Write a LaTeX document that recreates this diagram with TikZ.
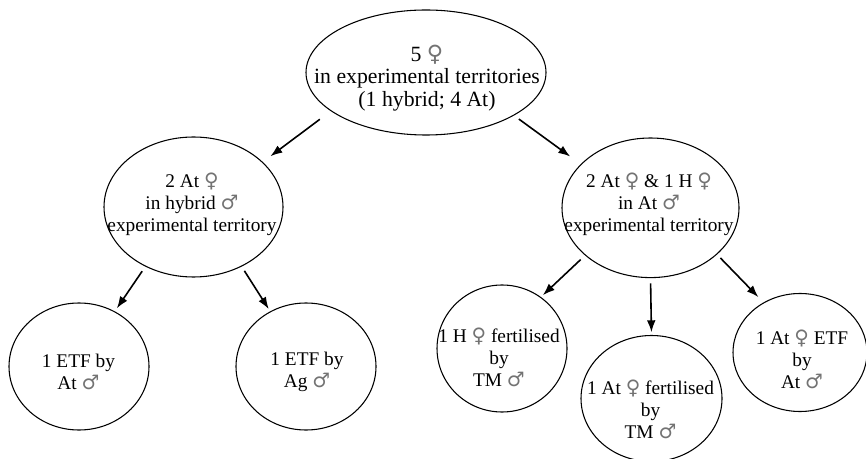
\documentclass[tikz,border=0pt]{standalone}
\usepackage{fontspec}
\setmainfont{Liberation Serif}
\newfontfamily\symfont[Scale=1.03]{DejaVu Sans}
\usepackage{tikz}
\usetikzlibrary{shapes.geometric,arrows.meta}

\newcommand{\fem}{{\symfont\color{black!55}♀}}
\newcommand{\mas}{{\symfont\color{black!55}♂}}

\begin{document}
\begin{tikzpicture}[x=0.75pt,y=0.75pt,yscale=-1,xscale=1,
  blob/.style={draw,ellipse,line width=0.8pt,inner sep=0pt,outer sep=0pt},
  txt/.style={align=center,inner sep=0pt,font=\fontsize{14.5}{16.5}\selectfont},
  arr/.style={-{Latex[length=9pt,width=6.5pt]},line width=1.2pt}]
\useasboundingbox (0,0) rectangle (866,459);

% Ellipses
\node[blob,minimum width=180pt,minimum height=93.75pt] (top) at (426,72.5) {};
\node[blob,minimum width=134.25pt,minimum height=105pt] (lmid) at (193.5,207) {};
\node[blob,minimum width=132.75pt,minimum height=104.7pt] (rmid) at (650.5,207.8) {};
\node[blob,minimum width=105pt,minimum height=95.25pt] (atfem) at (79,366.5) {};
\node[blob,minimum width=105pt,minimum height=95.25pt] (agfem) at (306,366.5) {};
\node[blob,minimum width=97.5pt,minimum height=95.25pt] (htm) at (502,348.5) {};
\node[blob,minimum width=105.75pt,minimum height=94.5pt] (attm) at (651.5,398.5) {};
\node[blob,minimum width=100.5pt,minimum height=88.5pt] (atat) at (800,352.5) {};

% Text Node
\node[txt,font=\fontsize{16.3}{16.8}\selectfont] (toptxt) at (427,78) {5 \fem\\in experimental territories\\(1 hybrid; 4 At)};
% Text Node
\node[txt] (lmidtxt) at (192,204.5) {2 At \fem\\in hybrid \mas\\experimental territory};
% Text Node
\node[txt] (rmidtxt) at (649,204.5) {2 At \fem{} \& 1 H \fem\\in At \mas\\experimental territory};
% Text Node
\node[txt] (atfemtxt) at (78.5,372) {1 ETF by\\At \mas};
% Text Node
\node[txt] (agfemtxt) at (307,372) {1 ETF by\\Ag \mas};
% Text Node
\node[txt] (htmtxt) at (499,357) {1 H \fem{} fertilised\\by\\TM \mas};
% Text Node
\node[txt] (attmtxt) at (650.5,409) {1 At \fem{} fertilised\\by\\TM \mas};
% Text Node
\node[txt] (atattxt) at (802,359) {1 At \fem{} ETF\\by\\At \mas};

% Connection
\draw[arr,shorten <=10.65pt,shorten >=7.5pt] (top.202) -- (lmid.33);
% Connection
\draw[arr,shorten <=4.9pt,shorten >=10.1pt] (top.334) -- (rmid.148);
% Connection
\draw[arr,shorten <=4.6pt,shorten >=3.1pt] (lmid.231) -- (atfem.57);
% Connection
\draw[arr,shorten <=4.2pt,shorten >=2.4pt] (lmid.309) -- (agfem.123);
% Connection
\draw[arr,shorten <=4.9pt,shorten >=2.4pt] (rmid.216) -- (htm.53);
% Connection
\draw[arr,shorten <=4.3pt,shorten >=2.4pt] (rmid.south) -- (attm.north);
% Connection
\draw[arr,shorten <=4pt,shorten >=5.9pt] (rmid.325) -- (atat.126);

\end{tikzpicture}
\end{document}
